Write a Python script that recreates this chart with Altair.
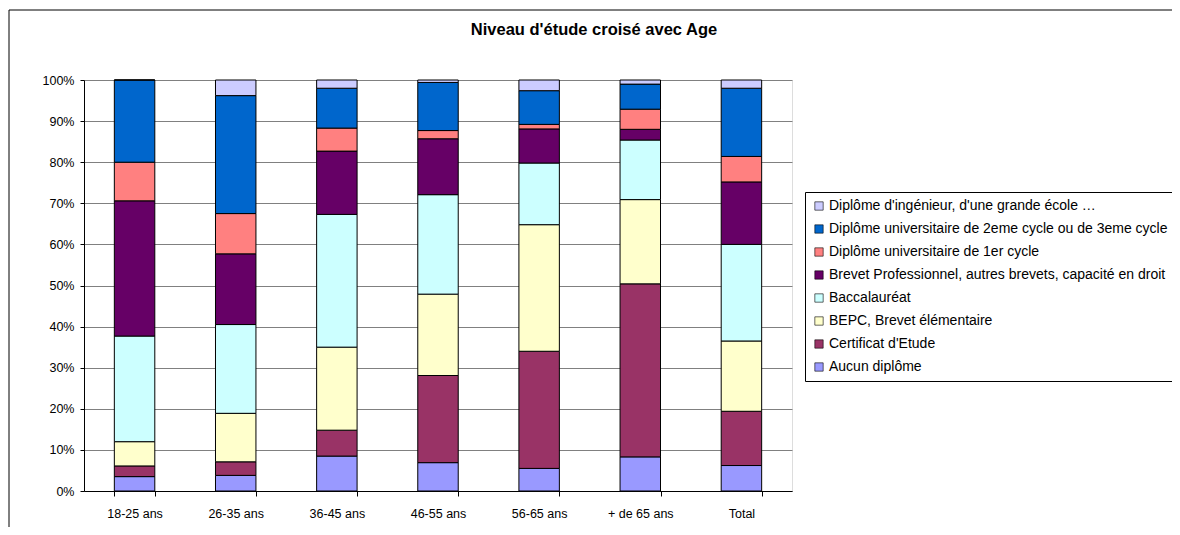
import altair as alt
import pandas as pd

categories = ["18-25 ans", "26-35 ans", "36-45 ans", "46-55 ans", "56-65 ans", "+ de 65 ans", "Total"]

# series in stacking order (bottom to top)
series_names = [
    "Aucun diplôme",
    "Certificat d'Etude",
    "BEPC, Brevet élémentaire",
    "Baccalauréat",
    "Brevet Professionnel, autres brevets, capacité en droit",
    "Diplôme universitaire de 1er cycle",
    "Diplôme universitaire de 2eme cycle ou de 3eme cycle",
    "Diplôme d'ingénieur, d'une grande école …",
]
aucun = [3.5, 3.8, 8.5, 6.9, 5.5, 8.3, 6.2]
certificat = [2.6, 3.3, 6.3, 21.2, 28.5, 42.1, 13.2]
bepc = [5.9, 11.8, 20.2, 19.8, 30.8, 20.5, 17.1]
bac = [25.7, 21.6, 32.3, 24.2, 15.0, 14.5, 23.5]
brevet_pro = [32.9, 17.2, 15.4, 13.6, 8.3, 2.6, 15.2]
univ_1er = [9.4, 9.8, 5.6, 2.0, 1.1, 4.9, 6.2]
univ_2eme = [20.0, 28.7, 9.7, 11.7, 8.2, 6.1, 16.6]
ingenieur = [0.0, 3.8, 2.0, 0.6, 2.6, 1.0, 2.0]
series_values = [aucun, certificat, bepc, bac, brevet_pro, univ_1er, univ_2eme, ingenieur]
series_colors = ["#9999FF", "#993366", "#FFFFCC", "#CCFFFF", "#660066", "#FF8080", "#0066CC", "#CCCCFF"]

rows = []
for si, (name, vals) in enumerate(zip(series_names, series_values)):
    for cat, v in zip(categories, vals):
        rows.append({"Age": cat, "Niveau": name, "Valeur": v, "ordre": si})
df = pd.DataFrame(rows)

legend_domain = list(reversed(series_names))
legend_colors = list(reversed(series_colors))

FONT = "Liberation Sans"

bars = alt.Chart(df).mark_bar(stroke="black", strokeWidth=1).encode(
    x=alt.X("Age:N", sort=categories, title=None,
            scale=alt.Scale(paddingInner=0.6, paddingOuter=0.3),
            axis=alt.Axis(labelAngle=0, tickBand="extent", tickSize=5, labelPadding=11,
                          domainColor="black", tickColor="black", grid=False,
                          labelFontSize=12.5, labelFont=FONT, labelColor="black")),
    y=alt.Y("Valeur:Q", stack="normalize", title=None,
            scale=alt.Scale(domain=[0, 1]),
            axis=alt.Axis(format=".0%", values=[i / 10 for i in range(11)], tickSize=4,
                          labelPadding=6, domainColor="black", tickColor="black",
                          grid=True, gridColor="#808080", gridWidth=1,
                          labelFontSize=12.5, labelFont=FONT, labelColor="black")),
    color=alt.Color("Niveau:N", title=None,
                    scale=alt.Scale(domain=legend_domain, range=legend_colors),
                    legend=alt.Legend(orient="none", legendX=721, legendY=112,
                                      strokeColor="black", fillColor="white", padding=7,
                                      rowPadding=9, symbolType="square", symbolSize=70,
                                      symbolStrokeColor="black", symbolStrokeWidth=0.6,
                                      labelFontSize=14, labelFont=FONT, labelColor="black",
                                      labelLimit=500, labelOffset=3)),
    order=alt.Order("ordre:Q", sort="ascending"),
)

frame = alt.Chart(pd.DataFrame({"f": [0]})).mark_rect(
    fill="white", fillOpacity=0, stroke="black", strokeWidth=1, clip=False
).encode(
    x=alt.value(-75), x2=alt.value(1088.5), y=alt.value(-70), y2=alt.value(470)
)

chart = alt.layer(frame, bars).properties(
    width=708,
    height=411,
    autosize=alt.AutoSizeParams(type="none"),
    padding={"left": 76, "top": 72, "right": 380, "bottom": 36},
    title=alt.TitleParams("Niveau d'étude croisé avec Age", font=FONT, fontSize=16.5,
                          fontWeight="bold", color="black", anchor="middle",
                          frame="group", dx=156, offset=-29),
).configure_view(stroke="black", strokeWidth=1).configure(background="white")

chart.save("out.html", embed_options={"renderer": "svg", "actions": False})
